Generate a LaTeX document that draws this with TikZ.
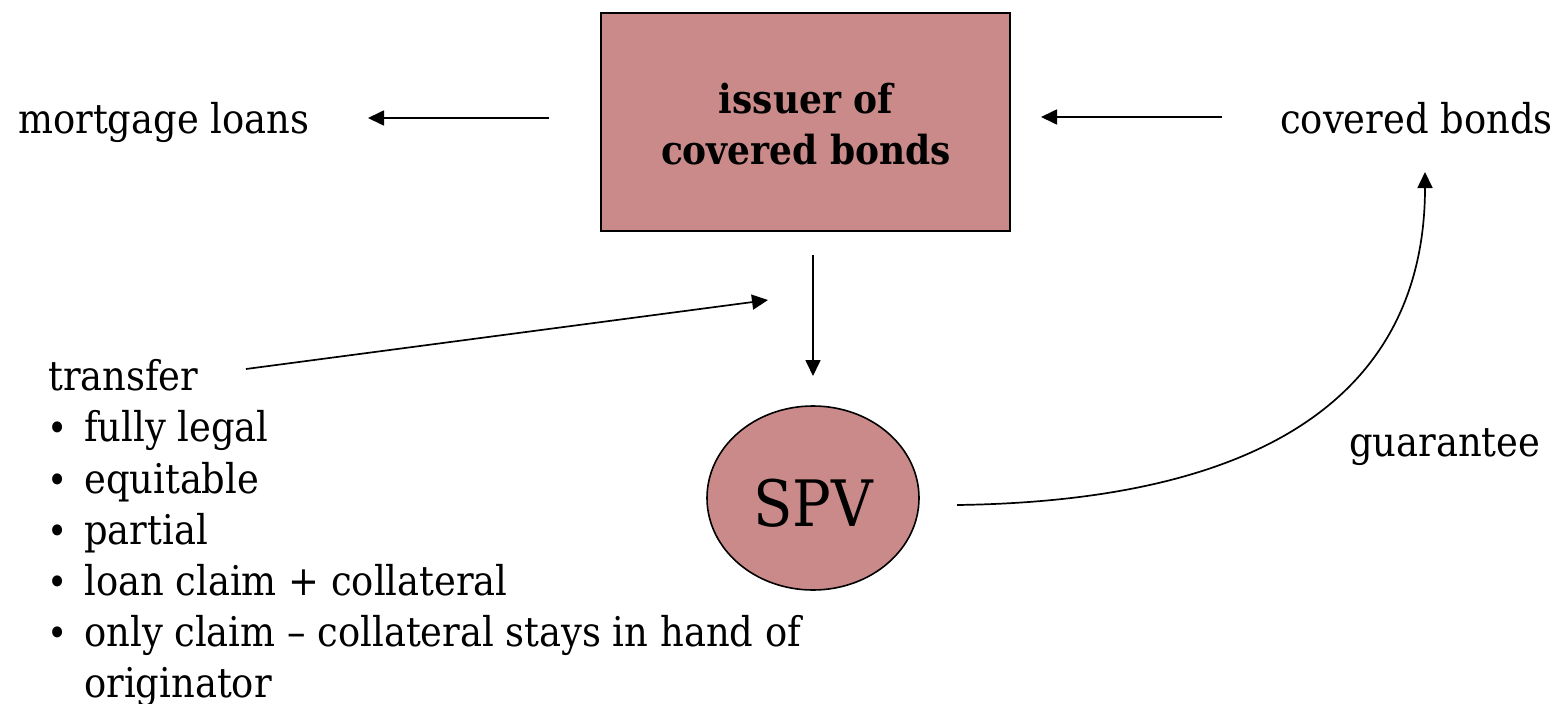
\documentclass[tikz,border=0pt]{standalone}
\usepackage{fontspec}
\setmainfont{DejaVu Serif Condensed}
\usetikzlibrary{arrows.meta,shapes.geometric}
\definecolor{boxfill}{RGB}{203,138,138}
\tikzset{
  conn/.style={line width=1.7pt,-{Triangle[length=16pt,width=15pt]}},
  lbl/.style={inner sep=0pt,anchor=base west,font=\fontsize{41}{49}\selectfont},
  dot/.style={inner sep=0pt,anchor=base,font=\fontsize{38}{46}\selectfont},
}
\begin{document}
\begin{tikzpicture}[x=1pt,y=-1pt]
\useasboundingbox (0,0) rectangle (1564,704);
\node[draw,line width=2.5pt,fill=boxfill,minimum width=409pt,minimum height=218pt,inner sep=0pt] (issuer) at (805.5,122) {};
\node[inner sep=0pt,anchor=base,font=\bfseries\fontsize{40}{48}\selectfont] (iss1) at (806,113) {issuer of};
\node[inner sep=0pt,anchor=base,font=\bfseries\fontsize{40}{48}\selectfont] (iss2) at (806,164) {covered bonds};
\node[draw,line width=1.6pt,fill=boxfill,ellipse,minimum width=212pt,minimum height=184pt,inner sep=0pt] (spv) at (813,498) {};
\node[inner sep=0pt,anchor=base,font=\fontsize{64}{70}\selectfont] (spvt) at (813,526) {SPV};
\node[lbl] (mort) at (18,133) {mortgage loans};
\node[lbl] (cov) at (1280,133) {covered bonds};
\node[lbl] (guar) at (1349,456) {guarantee};
\node[lbl] (tr) at (48,390) {transfer};
\node[dot] (d1) at (58,441) {\textbullet};
\node[dot] (d2) at (58,493) {\textbullet};
\node[dot] (d3) at (58,544) {\textbullet};
\node[dot] (d4) at (58,595) {\textbullet};
\node[dot] (d5) at (58,646) {\textbullet};
\node[lbl] (b1) at (84,441) {fully legal};
\node[lbl] (b2) at (84,493) {equitable};
\node[lbl] (b3) at (84,544) {partial};
\node[lbl] (b4) at (84,595) {loan claim + collateral};
\node[lbl] (b5) at (84,646) {only claim – collateral stays in hand of};
\node[lbl] (b6) at (84,697) {originator};
\coordinate (m1) at (549,118); \coordinate (m2) at (368,118);
\coordinate (c1) at (1222,117); \coordinate (c2) at (1041,117);
\coordinate (v1) at (813,255); \coordinate (v2) at (813,376);
\coordinate (t1) at (246,369); \coordinate (t2) at (768,300);
\coordinate (g1) at (957,505); \coordinate (g2) at (1425,172);
\draw[conn] (m1) -- (m2);
\draw[conn] (c1) -- (c2);
\draw[conn] (v1) -- (v2);
\draw[conn] (t1) -- (t2);
\draw[conn] (g1) .. controls (1330,500) and (1425,345) .. (g2);
\end{tikzpicture}
\end{document}
